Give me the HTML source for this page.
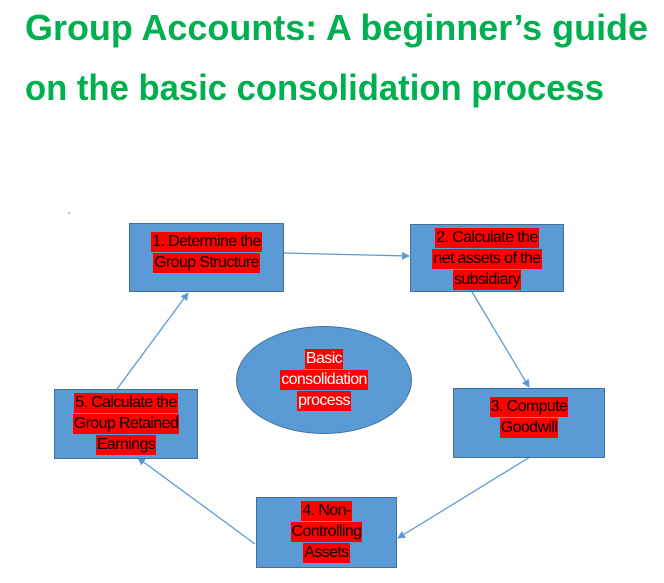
<!DOCTYPE html>
<html><head><meta charset="utf-8"><style>
html,body{margin:0;padding:0;background:#fff;width:664px;height:583px;overflow:hidden;position:relative;font-family:"Liberation Sans",Arial,sans-serif}
.box{position:absolute;background:#5b9bd5;border:1.5px solid #41719c;box-sizing:border-box;display:flex;flex-direction:column;align-items:center;padding-top:6px}
.box span,.el span{background:#ff0000;color:#000;font-size:16px;line-height:20px;display:inline-block;padding:0 1px;margin-bottom:1px;letter-spacing:-0.6px;white-space:nowrap}
.el{position:absolute;left:236px;top:326px;width:176px;height:108px;border-radius:50%;background:#5b9bd5;border:1.5px solid #41719c;box-sizing:border-box;display:flex;flex-direction:column;align-items:center;justify-content:center}
.el span{color:#fff}
</style></head><body>
<svg width="664" height="583" style="position:absolute;left:0;top:0">
<g fill="#00b050" font-weight="bold" font-size="36" font-family="Liberation Sans, Arial, sans-serif">
<text x="25" y="40" textLength="623" lengthAdjust="spacingAndGlyphs">Group Accounts: A beginner’s guide</text>
<text x="25" y="100" textLength="579" lengthAdjust="spacingAndGlyphs">on the basic consolidation process</text>
</g>
<defs><marker id="a" markerWidth="8" markerHeight="8" refX="7" refY="4" orient="auto" markerUnits="userSpaceOnUse"><path d="M0,0L8,4L0,8z" fill="#5b9bd5"/></marker></defs>
<g stroke="#5b9bd5" stroke-width="1.3" fill="none" marker-end="url(#a)">
<line x1="284" y1="253" x2="409" y2="256"/>
<line x1="472" y1="292" x2="529" y2="387"/>
<line x1="530" y1="457" x2="398" y2="538"/>
<line x1="255" y1="544" x2="138" y2="458"/>
<line x1="117" y1="389" x2="188" y2="293"/>
</g>
<circle cx="69" cy="213" r="0.6" fill="#333"/>
</svg>
<div class="box" style="left:129px;top:223px;width:155px;height:69px;padding-top:8px"><span>1. Determine the</span><span>Group Structure</span></div>
<div class="box" style="left:410px;top:224px;width:154px;height:68px;padding-top:3px"><span>2. Calculate the</span><span>net assets of the</span><span>subsidiary</span></div>
<div class="box" style="left:453px;top:388px;width:152px;height:70px;padding-top:8px"><span>3. Compute</span><span>Goodwill</span></div>
<div class="box" style="left:256px;top:497px;width:141px;height:71px;padding-top:3px"><span>4. Non-</span><span>Controlling</span><span>Assets</span></div>
<div class="box" style="left:54px;top:389px;width:144px;height:70px;padding-top:3px"><span>5. Calculate the</span><span>Group Retained</span><span>Earnings</span></div>
<div class="el"><span>Basic</span><span>consolidation</span><span>process</span></div>
</body></html>
